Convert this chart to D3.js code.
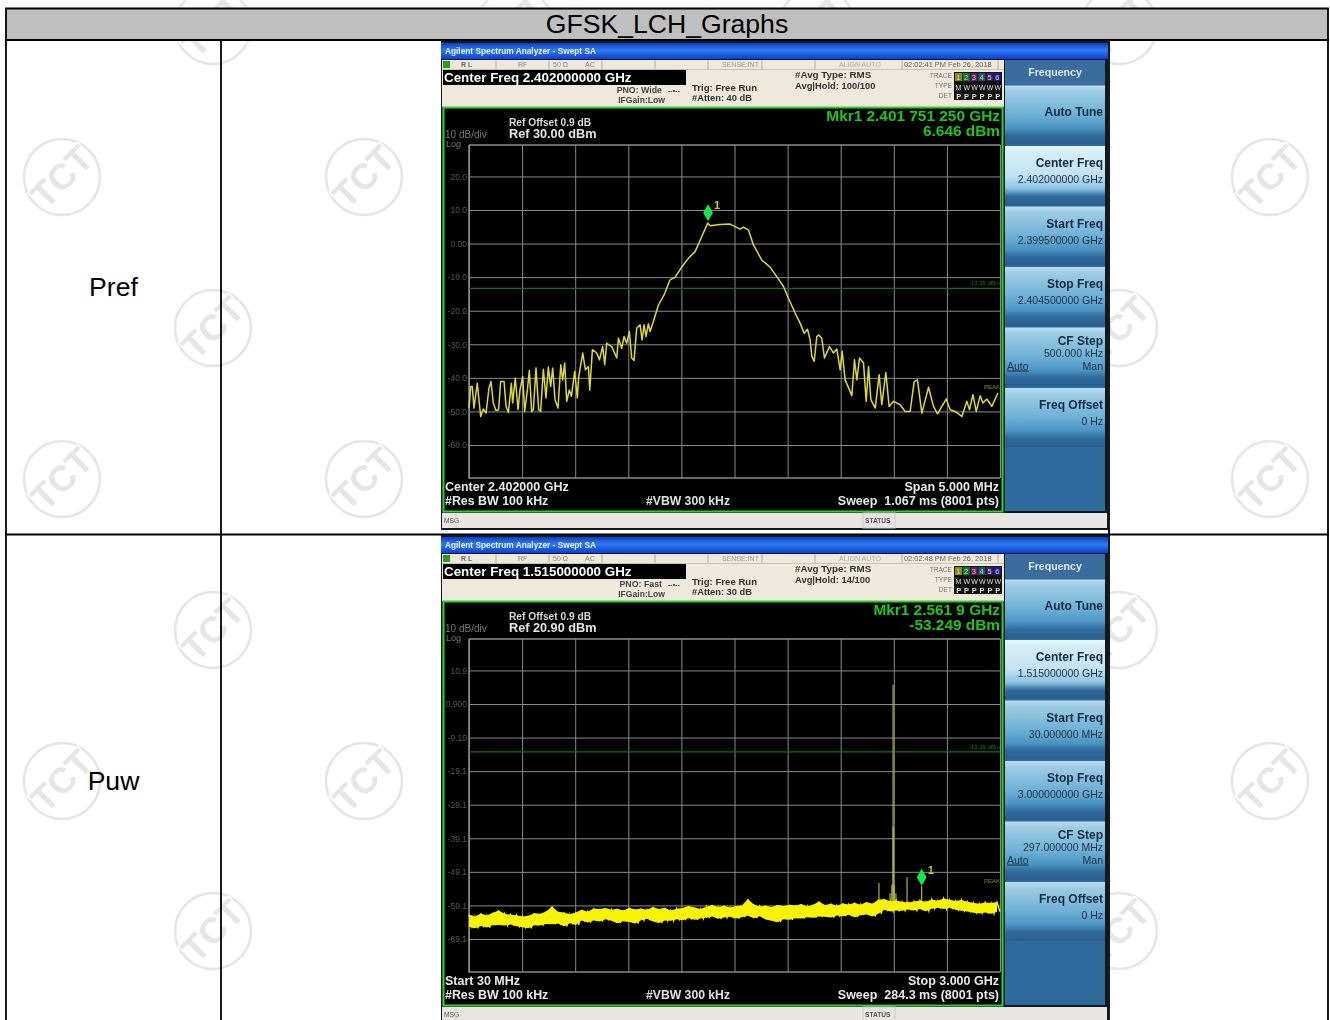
<!DOCTYPE html>
<html>
<head>
<meta charset="utf-8">
<script src="https://cdn.jsdelivr.net/npm/d3@7"></script>
<style>
  html, body { margin: 0; padding: 0; background: #fff; }
  svg { display: block; font-family: "Liberation Sans", Arial, sans-serif; }
</style>
</head>
<body>
<svg id="page" width="1330" height="1020"></svg>
<script>
// Pref trace
const prefFreq = [
  2399.500, 2399.516, 2399.531, 2399.547, 2399.578, 2399.597, 2399.610, 2399.635, 2399.660, 2399.688,
  2399.707, 2399.729, 2399.754, 2399.779, 2399.798, 2399.830, 2399.849, 2399.871, 2399.899, 2399.911,
  2399.936, 2399.962, 2399.980, 2400.006, 2400.024, 2400.050, 2400.068, 2400.090, 2400.106, 2400.131,
  2400.156, 2400.175, 2400.200, 2400.225, 2400.247, 2400.269, 2400.288, 2400.310, 2400.338, 2400.364,
  2400.382, 2400.401, 2400.420, 2400.445, 2400.464, 2400.495, 2400.520, 2400.533, 2400.571, 2400.596,
  2400.624, 2400.637, 2400.662, 2400.703, 2400.728, 2400.759, 2400.778, 2400.797, 2400.844, 2400.891,
  2400.907, 2400.938, 2400.960, 2400.985, 2401.010, 2401.032, 2401.054, 2401.079, 2401.111, 2401.130,
  2401.148, 2401.167, 2401.189, 2401.205, 2401.236, 2401.284, 2401.337, 2401.393, 2401.441, 2401.503,
  2401.566, 2401.629, 2401.692, 2401.748, 2401.770, 2401.864, 2401.958, 2402.053, 2402.084, 2402.131,
  2402.178, 2402.257, 2402.335, 2402.414, 2402.461, 2402.508, 2402.571, 2402.618, 2402.656, 2402.687,
  2402.712, 2402.728, 2402.750, 2402.775, 2402.794, 2402.822, 2402.847, 2402.894, 2402.932, 2402.963,
  2402.995, 2403.014, 2403.042, 2403.105, 2403.130, 2403.152, 2403.177, 2403.215, 2403.240, 2403.262,
  2403.284, 2403.325, 2403.362, 2403.387, 2403.425, 2403.456, 2403.497, 2403.560, 2403.607, 2403.654,
  2403.692, 2403.723, 2403.764, 2403.827, 2403.874, 2403.912, 2403.953, 2403.994, 2404.031, 2404.078,
  2404.141, 2404.188, 2404.213, 2404.245, 2404.276, 2404.314, 2404.339, 2404.376, 2404.423, 2404.480
];
const prefLevel = [
  -49.0, -42.6, -42.6, -49.0, -41.6, -47.5, -51.5, -49.3, -50.5, -43.1,
  -41.1, -47.5, -49.7, -49.5, -41.1, -41.1, -48.5, -50.3, -41.6, -47.5,
  -40.1, -49.5, -43.6, -39.6, -50.0, -43.6, -37.8, -50.0, -49.5, -37.1,
  -49.5, -50.0, -37.4, -46.0, -36.8, -42.6, -37.1, -46.5, -49.0, -36.1,
  -40.6, -35.6, -47.0, -43.6, -45.5, -38.1, -46.0, -39.6, -32.6, -37.6,
  -36.6, -43.6, -31.6, -32.6, -34.6, -30.7, -36.1, -29.7, -30.7, -34.1,
  -28.2, -31.2, -27.7, -29.7, -26.2, -34.1, -34.8, -25.2, -24.2, -28.7,
  -24.2, -27.7, -23.9, -26.2, -23.2, -18.3, -15.3, -10.8, -10.0, -7.0,
  -4.4, -2.4, 2.1, 6.1, 5.3, 5.7, 5.8, 4.3, 4.9, 4.1,
  -0.4, -4.9, -7.0, -10.6, -12.8, -16.3, -20.7, -23.7, -26.7, -25.5,
  -28.7, -33.6, -35.1, -27.7, -27.2, -28.2, -34.1, -30.7, -32.6, -31.4,
  -37.6, -32.1, -40.6, -45.3, -34.6, -40.6, -34.1, -35.6, -47.0, -36.6,
  -46.5, -49.0, -39.1, -48.0, -38.4, -48.5, -47.0, -48.0, -50.0, -50.0,
  -41.1, -40.6, -50.5, -42.8, -48.5, -50.7, -48.5, -46.3, -49.5, -50.0,
  -51.5, -47.0, -49.5, -45.0, -50.0, -45.3, -47.5, -46.3, -48.5, -44.5
];

// Puw noise floor, top and bottom of the band in turn, evenly spaced across the sweep
const puwLevel = [
  -61.8, -65.5, -62.4, -65.9, -61.5, -65.2, -62.1, -65.7, -61.3, -65.0,
  -60.6, -64.9, -61.6, -65.1, -61.9, -64.8, -62.0, -65.3, -62.4, -65.6,
  -62.2, -65.9, -61.4, -65.0, -61.6, -65.1, -60.9, -64.6, -59.4, -64.7,
  -61.0, -64.5, -61.2, -65.3, -61.7, -64.4, -61.2, -64.9, -60.4, -63.6,
  -61.0, -64.2, -60.0, -63.6, -60.2, -63.9, -59.9, -63.2, -60.4, -63.7,
  -60.1, -64.4, -60.6, -63.8, -59.8, -64.0, -60.3, -64.5, -60.0, -63.5,
  -60.4, -63.1, -59.6, -63.9, -60.2, -64.3, -59.8, -63.6, -60.6, -63.7,
  -60.1, -63.2, -59.9, -63.5, -59.3, -62.9, -59.7, -63.4, -60.2, -63.0,
  -59.5, -62.8, -59.0, -62.4, -59.6, -63.1, -59.2, -62.7, -59.7, -62.5,
  -59.3, -63.0, -59.1, -62.6, -57.2, -62.2, -58.8, -62.9, -59.4, -62.3,
  -59.2, -63.3, -59.6, -63.7, -59.0, -64.1, -59.3, -63.2, -58.9, -63.4,
  -59.1, -62.9, -58.7, -63.0, -59.4, -62.6, -58.9, -62.8, -57.9, -62.4,
  -59.0, -62.5, -58.6, -62.7, -59.2, -62.1, -58.5, -62.3, -58.8, -61.9,
  -58.3, -62.6, -58.9, -62.0, -58.1, -61.8, -58.6, -62.4, -57.4, -61.6,
  -57.2, -60.4, -57.9, -60.9, -57.6, -60.6, -58.0, -60.7, -58.2, -60.3,
  -57.9, -60.6, -57.6, -60.2, -58.0, -60.8, -57.3, -60.1, -57.7, -59.8,
  -57.0, -60.2, -57.4, -59.9, -57.8, -60.4, -57.5, -60.7, -58.0, -60.9,
  -58.3, -61.3, -58.6, -61.5, -58.2, -61.2, -58.4, -61.6, -58.1, -61.0
];
// Single spurs that stand out of the band (MHz, peak dBm)
const puwSpikeFreq = [2323, 2385, 2395, 2402, 2402, 2408, 2418, 2480, 2561.9];
const puwSpikeLevel = [-52.4, -55.5, -53, 6.6, -35.6, -53, -55.5, -50.6, -53.249];

// Axis ticks
const prefTicks = [20, 10, 0, -10, -20, -30, -40, -50, -60];
const prefTickLabels = ['20.0', '10.0', '0.00', '-10.0', '-20.0', '-30.0', '-40.0', '-50.0', '-60.0'];
const puwTicks = [10.9, 0.9, -9.1, -19.1, -29.1, -39.1, -49.1, -59.1, -69.1];
const puwTickLabels = ['10.9', '0.900', '-9.10', '-19.1', '-29.1', '-39.1', '-49.1', '-59.1', '-69.1'];

// Softkey captions
const prefKeys = [['Auto Tune'], ['Center Freq', '2.402000000 GHz'], ['Start Freq', '2.399500000 GHz'],
  ['Stop Freq', '2.404500000 GHz'], ['CF Step', '500.000 kHz'], ['Freq Offset', '0 Hz']];
const puwKeys = [['Auto Tune'], ['Center Freq', '1.515000000 GHz'], ['Start Freq', '30.000000 MHz'],
  ['Stop Freq', '3.000000000 GHz'], ['CF Step', '297.000000 MHz'], ['Freq Offset', '0 Hz']];

// Watermark lattice
const wmCols = [62, 213, 364, 515, 666, 817, 968, 1119, 1270];
const wmRows = [26, 177, 328, 479, 630, 781, 931];

const svg = d3.select('#page');
const defs = svg.append('defs');

defs.append('filter').attr('id', 'soft')
  .attr('color-interpolation-filters', 'sRGB')
  .attr('x', 0).attr('y', 0).attr('width', '100%').attr('height', '100%')
  .append('feGaussianBlur').attr('stdDeviation', 0.5);

function gradient(id, stops) {
  const g = defs.append('linearGradient').attr('id', id)
    .attr('x1', 0).attr('y1', 0).attr('x2', 0).attr('y2', 1);
  stops.forEach(s => g.append('stop').attr('offset', s[0]).attr('stop-color', s[1]));
}
gradient('bar', [[0, '#0b3cc8'], [0.45, '#2f7cec'], [1, '#0a3ed8']]);
gradient('key', [[0, '#b8dcee'], [0.1, '#9ecde4'], [0.5, '#6db0d6'], [0.72, '#4b95c4'], [0.85, '#2f6a9c'], [1, '#2a5f90']]);
gradient('keySel', [[0, '#e8f6fc'], [0.1, '#d8eef8'], [0.5, '#c0e2f2'], [0.72, '#8cc4e0'], [0.85, '#2f6a9c'], [1, '#2a5f90']]);

// ---- watermarks, under everything else ----
const wm = svg.append('g').attr('fill', 'none');
wmRows.forEach((cy, r) => {
  wmCols.forEach((cx, c) => {
    if ((r + c) % 2 === 0) return;
    const mark = wm.append('g').attr('transform', `translate(${cx},${cy})`);
    mark.append('circle').attr('r', 38).attr('stroke', '#e6e6e6').attr('stroke-width', 2.6);
    mark.append('text')
      .attr('transform', 'rotate(-45) translate(0,12)')
      .attr('text-anchor', 'middle')
      .attr('font-size', 36).attr('font-weight', 'bold')
      .attr('fill', '#e6e6e6')
      .attr('stroke', '#fff').attr('stroke-width', 3).attr('paint-order', 'stroke')
      .text('TCT');
  });
});

// ---- report table ----
const table = svg.append('g');
table.append('rect').attr('x', 6).attr('y', 8.5).attr('width', 1322).attr('height', 31.5).attr('fill', '#bfbfbf');
const rules = [[6, 8, 6, 1020], [1328, 8, 1328, 1020], [5, 8.5, 1329, 8.5], [5, 40, 1329, 40],
  [221, 40, 221, 1020], [1109, 40, 1109, 1020], [5, 534.5, 1329, 534.5]];
table.selectAll('line').data(rules).enter().append('line')
  .attr('x1', d => d[0]).attr('y1', d => d[1]).attr('x2', d => d[2]).attr('y2', d => d[3])
  .attr('stroke', '#000').attr('stroke-width', 1.8);
table.append('text').attr('x', 667).attr('y', 33).attr('text-anchor', 'middle')
  .attr('font-size', 26.6).text('GFSK_LCH_Graphs');
table.append('text').attr('x', 113.5).attr('y', 296).attr('text-anchor', 'middle')
  .attr('font-size', 26.6).text('Pref');
table.append('text').attr('x', 113.5).attr('y', 790).attr('text-anchor', 'middle')
  .attr('font-size', 26.6).text('Puw');

function label(g, x, y, text, size, fill, opts = {}) {
  return g.append('text')
    .attr('x', x).attr('y', y)
    .attr('font-size', size)
    .attr('font-weight', opts.normal ? 'normal' : 'bold')
    .attr('text-anchor', opts.anchor || 'start')
    .attr('fill', fill)
    .attr('xml:space', 'preserve')
    .text(text);
}

// ---- one analyzer screenshot ----
function drawScreen(dy, s) {
  const g = svg.append('g')
    .attr('transform', `translate(0,${dy})`)
    .attr('filter', 'url(#soft)');

  g.append('rect').attr('x', 441).attr('y', 41).attr('width', 667).attr('height', 489).attr('fill', '#101820');
  g.append('rect').attr('x', 441).attr('y', 43).attr('width', 667).attr('height', 16).attr('fill', 'url(#bar)');
  label(g, 445, 54, 'Agilent Spectrum Analyzer - Swept SA', 8.3, '#e8f0ff');

  // status rows
  g.append('rect').attr('x', 442).attr('y', 60).attr('width', 562).attr('height', 47).attr('fill', '#efe9dc');
  g.append('rect').attr('x', 443).attr('y', 61).attr('width', 7).attr('height', 7).attr('fill', '#2e9a20');
  [496, 549, 602, 655, 708, 762, 815, 902, 998].forEach(x => {
    g.append('line').attr('x1', x).attr('x2', x).attr('y1', 60).attr('y2', 69).attr('stroke', '#b5b0a4');
  });
  g.append('line').attr('x1', 442).attr('x2', 1004).attr('y1', 69.5).attr('y2', 69.5).attr('stroke', '#c9c3b6');
  label(g, 461, 67, 'R L', 7, '#666');
  label(g, 518, 67, 'RF', 7, '#888', { normal: true });
  label(g, 553, 67, '50 Ω', 7, '#888', { normal: true });
  label(g, 585, 67, 'AC', 7, '#888', { normal: true });
  label(g, 722, 67, 'SENSE:INT', 7, '#999', { normal: true });
  label(g, 839, 67, 'ALIGN AUTO', 7, '#aaa', { normal: true });
  label(g, 904, 67, s.time, 7.4, '#666', { normal: true });

  g.append('rect').attr('x', 443).attr('y', 70).attr('width', 243).attr('height', 15).attr('fill', '#000');
  label(g, 444, 82, s.center, 13.4, '#fff');
  label(g, 662, 93, s.pno, 8.8, '#444', { anchor: 'end' });
  label(g, 665, 103, 'IFGain:Low', 8.6, '#444', { anchor: 'end' });
  label(g, 668, 93, '--•--', 7, '#444');
  label(g, 692, 91, 'Trig: Free Run', 9.6, '#333');
  label(g, 692, 101, s.atten, 9.3, '#333');
  label(g, 795, 78, '#Avg Type: RMS', 9.8, '#333');
  label(g, 795, 89, s.hold, 9.4, '#333');
  label(g, 952, 78, 'TRACE', 6.6, '#777', { anchor: 'end', normal: true });
  label(g, 952, 88, 'TYPE', 6.6, '#777', { anchor: 'end', normal: true });
  label(g, 952, 98, 'DET', 6.6, '#777', { anchor: 'end', normal: true });
  g.append('rect').attr('x', 954).attr('y', 72).attr('width', 48).attr('height', 28).attr('fill', '#111');
  ['1', '2', '3', '4', '5', '6'].forEach((t, i) => {
    const x = 955 + i * 7.8;
    g.append('rect').attr('x', x).attr('y', 73).attr('width', 7).attr('height', 8)
      .attr('fill', ['#8a8a10', '#0e7a2a', '#6a1a6a', '#1a5a5a', '#3a1a6a', '#201a80'][i]);
    label(g, x + 1.2, 80, t, 7.5, '#d8d8d8', { normal: true });
    label(g, x + 0.6, 90, i === 0 ? 'M' : 'W', 7, '#ddd', { normal: true });
    label(g, x + 1.2, 99, 'P', 7.5, '#ddd');
  });

  // display area
  g.append('rect').attr('x', 443.5).attr('y', 107.5).attr('width', 559).attr('height', 404)
    .attr('fill', '#000').attr('stroke', '#2ed32e').attr('stroke-width', 2);
  label(g, 509, 126, 'Ref Offset 0.9 dB', 10.2, '#d8d8d8');
  label(g, 509, 138, s.ref, 12.7, '#e4e4e4');
  label(g, 445, 138, '10 dB/div', 10, '#777', { normal: true });
  label(g, 446, 147, 'Log', 9, '#777', { normal: true });
  label(g, 1000, 121, s.mkrFreq, 15.4, '#1fc41f', { anchor: 'end' });
  label(g, 1000, 136, s.mkrLevel, 15.4, '#1fc41f', { anchor: 'end' });

  const x = d3.scaleLinear().domain(s.span).range([469, 1000]);
  const y = d3.scaleLinear().domain([s.top - 20, s.top - 90]).range([210, 445]);

  // graticule from the axes, ticks stretched across the plot
  const xGrid = d3.scaleLinear().domain([0, 10]).range([469, 1000]);
  g.append('g')
    .attr('transform', 'translate(0,145)')
    .call(d3.axisBottom(xGrid).ticks(10).tickSize(333).tickFormat(''))
    .call(a => a.select('.domain').remove())
    .selectAll('line').attr('stroke', '#8a8a8a').attr('stroke-width', 1);
  g.append('g')
    .attr('transform', 'translate(469,0)')
    .call(d3.axisLeft(y).tickValues(s.ticks).tickSize(-531).tickPadding(2)
      .tickFormat((d, i) => s.tickLabels[i]))
    .call(a => a.select('.domain').remove())
    .call(a => a.selectAll('line').attr('stroke', '#8a8a8a').attr('stroke-width', 1))
    .call(a => a.selectAll('text').attr('fill', '#565656').attr('font-size', 8.5)
      .attr('font-family', '"Liberation Sans", Arial, sans-serif'));
  g.append('path')
    .attr('d', 'M469,145H1000M469,145V478H1000')
    .attr('fill', 'none').attr('stroke', '#8a8a8a').attr('stroke-width', 1.6);

  // display line
  g.append('line').attr('x1', 469).attr('x2', 1000).attr('y1', y(-13.35)).attr('y2', y(-13.35))
    .attr('stroke', '#166e16').attr('stroke-width', 1.2);
  label(g, 1000, y(-13.35) - 3, '-13.35 dBm', 6, '#127a12', { anchor: 'end', normal: true });
  label(g, 1000, 389, 'PEAK', 6, '#8c8a20', { anchor: 'end', normal: true });

  s.drawTrace(g, x, y);

  const mx = x(s.marker[0]);
  const my = y(s.marker[1]);
  g.append('path')
    .attr('d', d3.symbol().type(d3.symbolDiamond).size(83))
    .attr('transform', `translate(${mx},${my - 8.5})`)
    .attr('fill', '#12e84a');
  label(g, mx + 6, my - 12, '1', 11, '#c8c030');

  label(g, 445, 491, s.left1, 12.5, '#e8e8e8');
  label(g, 445, 505, '#Res BW 100 kHz', 12.4, '#e8e8e8');
  label(g, 646, 505, '#VBW 300 kHz', 12.2, '#e0e0e0');
  label(g, 999, 491, s.right1, 12.5, '#e8e8e8', { anchor: 'end' });
  label(g, 999, 505, s.sweep, 12.5, '#e8e8e8', { anchor: 'end' });

  // message bar
  g.append('rect').attr('x', 442).attr('y', 513).attr('width', 665).attr('height', 15).attr('fill', '#e9e5e3');
  label(g, 444, 523, 'MSG', 6.6, '#555', { normal: true });
  g.append('line').attr('x1', 456).attr('x2', 456).attr('y1', 513).attr('y2', 528).attr('stroke', '#ccc');
  g.append('rect').attr('x', 863).attr('y', 513).attr('width', 32).attr('height', 15).attr('fill', 'none').attr('stroke', '#ccc');
  label(g, 865, 523, 'STATUS', 6.6, '#555');

  // softkeys
  g.append('rect').attr('x', 1005).attr('y', 60).attr('width', 100).attr('height', 451).attr('fill', '#2f6a9c');
  g.append('rect').attr('x', 1005).attr('y', 60).attr('width', 100).attr('height', 24).attr('fill', '#3a6c9e');
  label(g, 1055, 76, 'Frequency', 10.6, '#dce8f2', { anchor: 'middle' });

  const keyY = d3.scaleLinear().domain([0, 5]).range([85.5, 388]);
  s.keys.forEach((k, i) => {
    const top = keyY(i);
    g.append('rect').attr('x', 1005).attr('y', top).attr('width', 100).attr('height', 59)
      .attr('fill', i === 1 ? 'url(#keySel)' : 'url(#key)');
    if (k.length === 1) {
      label(g, 1103, top + 30, k[0], 12, '#112a44', { anchor: 'end' });
    } else if (k[0] === 'CF Step') {
      label(g, 1103, top + 17, k[0], 12, '#112a44', { anchor: 'end' });
      label(g, 1103, top + 29, k[1], 10.5, '#1c3044', { anchor: 'end', normal: true });
      label(g, 1103, top + 42, 'Man', 10.5, '#1c3044', { anchor: 'end', normal: true });
      label(g, 1007, top + 42, 'Auto', 10.5, '#1c3044', { normal: true }).attr('text-decoration', 'underline');
    } else {
      label(g, 1103, top + 21, k[0], 12, '#112a44', { anchor: 'end' });
      label(g, 1103, top + 37, k[1], 10.5, '#1c3044', { anchor: 'end', normal: true });
    }
  });
}

// ---- Pref ----
drawScreen(0, {
  time: '02:02:41 PM Feb 26, 2018',
  center: 'Center Freq 2.402000000 GHz',
  pno: 'PNO: Wide',
  atten: '#Atten: 40 dB',
  hold: 'Avg|Hold: 100/100',
  ref: 'Ref 30.00 dBm',
  mkrFreq: 'Mkr1 2.401 751 250 GHz',
  mkrLevel: '6.646 dBm',
  span: [2399.5, 2404.5],
  top: 30,
  ticks: prefTicks,
  tickLabels: prefTickLabels,
  marker: [2401.75125, 6.646],
  left1: 'Center 2.402000 GHz',
  right1: 'Span 5.000 MHz',
  sweep: 'Sweep  1.067 ms (8001 pts)',
  keys: prefKeys,
  drawTrace(g, x, y) {
    const line = d3.line().x(d => x(d[0])).y(d => y(d[1]));
    g.append('path')
      .datum(d3.zip(prefFreq, prefLevel))
      .attr('d', line)
      .attr('fill', 'none')
      .attr('stroke', '#dcd83c')
      .attr('stroke-width', 1.5)
      .attr('stroke-linejoin', 'round');
  }
});

// ---- Puw ----
drawScreen(494, {
  time: '02:02:48 PM Feb 26, 2018',
  center: 'Center Freq 1.515000000 GHz',
  pno: 'PNO: Fast',
  atten: '#Atten: 30 dB',
  hold: 'Avg|Hold: 14/100',
  ref: 'Ref 20.90 dBm',
  mkrFreq: 'Mkr1 2.561 9 GHz',
  mkrLevel: '-53.249 dBm',
  span: [30, 3000],
  top: 20.9,
  ticks: puwTicks,
  tickLabels: puwTickLabels,
  marker: [2561.9, -53.249],
  left1: 'Start 30 MHz',
  right1: 'Stop 3.000 GHz',
  sweep: 'Sweep  284.3 ms (8001 pts)',
  keys: puwKeys,
  drawTrace(g, x, y) {
    const step = d3.scaleLinear().domain([0, puwLevel.length - 1]).range([30, 3000]);
    // band: tops are the even readings, bottoms the odd ones
    const band = d3.range(0, puwLevel.length, 2).map(i => [step(i), puwLevel[i], puwLevel[i + 1]]);
    const area = d3.area().x(d => x(d[0])).y0(d => y(d[2])).y1(d => y(d[1]));
    const line = d3.line().x((d, i) => x(step(i))).y(d => y(d));

    g.selectAll('.spike')
      .data(d3.zip(puwSpikeFreq, puwSpikeLevel))
      .enter().append('line')
      .classed('spike', true)
      .attr('x1', d => x(d[0])).attr('x2', d => x(d[0]))
      .attr('y1', d => y(d[1])).attr('y2', y(-60))
      .attr('stroke', '#c4be40').attr('stroke-width', 1.1);
    g.append('path')
      .datum(band)
      .attr('d', area)
      .attr('fill', '#f8f400');
    g.append('path')
      .datum(puwLevel)
      .attr('d', line)
      .attr('fill', 'none')
      .attr('stroke', '#f8f400')
      .attr('stroke-width', 1.3);
  }
});
</script>
</body>
</html>
